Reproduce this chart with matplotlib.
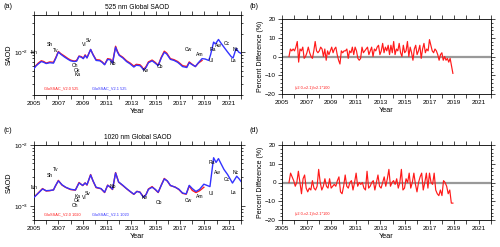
import numpy as np
import matplotlib
matplotlib.use("Agg")
import matplotlib.pyplot as plt
from matplotlib.ticker import FixedLocator, NullFormatter, LogLocator, MultipleLocator

plt.rcParams['font.family'] = ['Liberation Sans', 'DejaVu Sans']

# ---------------- data ----------------
yr_b525 = [2005.0, 2005.15, 2005.35, 2005.6, 2005.8, 2006.0, 2006.3, 2006.6, 2006.8, 2007.0,
           2007.2, 2007.5, 2007.8, 2008.0, 2008.3, 2008.5, 2008.7, 2008.9, 2009.05, 2009.2,
           2009.35, 2009.65, 2009.85, 2010.1, 2010.4, 2010.6, 2010.8, 2011.05, 2011.3, 2011.45,
           2011.7, 2011.85, 2012.0, 2012.3, 2012.6, 2012.9, 2013.2, 2013.4, 2013.7, 2013.85,
           2014.0, 2014.2, 2014.4, 2014.7, 2014.95, 2015.2, 2015.45, 2015.7, 2015.9, 2016.2,
           2016.5, 2016.8, 2017.0, 2017.2, 2017.55, 2017.75, 2017.95, 2018.25, 2018.5, 2018.8,
           2019.05, 2019.35, 2019.5, 2019.75, 2019.9, 2020.15, 2020.35, 2020.6, 2020.9, 2021.2,
           2021.35, 2021.6, 2021.8, 2022.0]
v21_525 = [5.4e-3, 5.9e-3, 6.4e-3, 7.0e-3, 6.8e-3, 6.5e-3, 6.7e-3, 6.6e-3, 8.0e-3, 1.0e-2,
           9.2e-3, 8.3e-3, 7.6e-3, 7.2e-3, 7.0e-3, 7.1e-3, 8.5e-3, 8.2e-3, 7.8e-3, 8.8e-3,
           8.0e-3, 1.1e-2, 9.0e-3, 7.3e-3, 7.2e-3, 6.8e-3, 6.2e-3, 7.6e-3, 7.4e-3, 6.6e-3,
           1.2e-2, 1.0e-2, 8.8e-3, 8.0e-3, 7.0e-3, 6.4e-3, 5.7e-3, 6.1e-3, 6.0e-3, 5.6e-3,
           5.1e-3, 5.6e-3, 6.7e-3, 7.2e-3, 6.6e-3, 6.0e-3, 8.0e-3, 9.9e-3, 9.3e-3, 7.6e-3,
           7.3e-3, 6.8e-3, 6.3e-3, 5.8e-3, 5.6e-3, 6.7e-3, 6.3e-3, 5.8e-3, 6.7e-3, 7.8e-3,
           7.7e-3, 7.3e-3, 9.0e-3, 1.45e-2, 1.35e-2, 1.6e-2, 1.4e-2, 1.2e-2, 1.0e-2, 8.4e-3,
           8.0e-3, 1.15e-2, 1.0e-2, 9.5e-3]
yr_r525 = yr_b525[:60]
v20_525 = [5.5e-3, 6.0e-3, 6.6e-3, 7.2e-3, 7.0e-3, 6.6e-3, 6.9e-3, 6.8e-3, 8.2e-3, 1.02e-2,
           9.4e-3, 8.6e-3, 7.8e-3, 7.4e-3, 7.1e-3, 7.3e-3, 8.6e-3, 8.4e-3, 7.9e-3, 9.0e-3,
           8.1e-3, 1.1e-2, 9.1e-3, 7.5e-3, 7.4e-3, 6.9e-3, 6.3e-3, 7.8e-3, 7.6e-3, 6.7e-3,
           1.24e-2, 1.03e-2, 9.0e-3, 8.2e-3, 7.2e-3, 6.6e-3, 5.9e-3, 6.3e-3, 6.2e-3, 5.8e-3,
           5.2e-3, 5.8e-3, 6.9e-3, 7.4e-3, 6.8e-3, 6.1e-3, 8.2e-3, 1.03e-2, 9.6e-3, 7.8e-3,
           7.5e-3, 7.0e-3, 6.5e-3, 6.0e-3, 5.8e-3, 6.9e-3, 6.4e-3, 5.8e-3, 6.6e-3, 7.3e-3]

yr_b1020 = [2005.0, 2005.3, 2005.7, 2006.0, 2006.3, 2006.6, 2006.75, 2007.0, 2007.3, 2007.6,
            2008.0, 2008.4, 2008.7, 2009.0, 2009.2, 2009.35, 2009.65, 2009.85, 2010.1, 2010.5,
            2010.8, 2011.05, 2011.3, 2011.45, 2011.7, 2011.95, 2012.3, 2012.6, 2012.9, 2013.2,
            2013.45, 2013.7, 2014.0, 2014.2, 2014.4, 2014.7, 2014.95, 2015.2, 2015.45, 2015.7,
            2015.95, 2016.2, 2016.6, 2016.9, 2017.2, 2017.5, 2017.75, 2018.0, 2018.3, 2018.6,
            2018.95, 2019.2, 2019.45, 2019.75, 2019.95, 2020.15, 2020.35, 2020.6, 2020.9, 2021.3,
            2021.65, 2021.85, 2022.0]
v21_1020 = [1.4e-3, 1.6e-3, 1.92e-3, 1.8e-3, 1.82e-3, 1.85e-3, 2.15e-3, 2.6e-3, 2.25e-3, 2.05e-3,
            1.9e-3, 1.85e-3, 2.4e-3, 2.2e-3, 2.4e-3, 2.25e-3, 3.25e-3, 2.6e-3, 2.05e-3, 1.95e-3,
            1.7e-3, 2.2e-3, 2.05e-3, 1.9e-3, 3.5e-3, 2.5e-3, 2.2e-3, 1.95e-3, 1.75e-3, 1.58e-3,
            1.75e-3, 1.7e-3, 1.4e-3, 1.55e-3, 1.9e-3, 2.05e-3, 1.9e-3, 1.7e-3, 2.2e-3, 2.8e-3,
            2.6e-3, 2.2e-3, 2.05e-3, 1.9e-3, 1.65e-3, 1.6e-3, 2.2e-3, 1.95e-3, 1.75e-3, 1.9e-3,
            2.3e-3, 2.2e-3, 2.1e-3, 6.2e-3, 5.2e-3, 6.0e-3, 5.0e-3, 4.0e-3, 3.3e-3, 2.4e-3,
            3.1e-3, 2.8e-3, 2.55e-3]
yr_r1020 = yr_b1020[:51]
v20_1020 = [1.41e-3, 1.62e-3, 1.95e-3, 1.78e-3, 1.8e-3, 1.86e-3, 2.12e-3, 2.65e-3, 2.22e-3, 2.04e-3,
            1.88e-3, 1.84e-3, 2.45e-3, 2.18e-3, 2.42e-3, 2.22e-3, 3.3e-3, 2.58e-3, 2.02e-3, 1.94e-3,
            1.68e-3, 2.22e-3, 2.02e-3, 1.88e-3, 3.55e-3, 2.48e-3, 2.18e-3, 1.94e-3, 1.74e-3, 1.57e-3,
            1.76e-3, 1.71e-3, 1.41e-3, 1.56e-3, 1.92e-3, 2.1e-3, 1.88e-3, 1.68e-3, 2.22e-3, 2.85e-3,
            2.58e-3, 2.18e-3, 2.06e-3, 1.88e-3, 1.63e-3, 1.58e-3, 2.15e-3, 1.82e-3, 1.68e-3, 1.8e-3,
            2.05e-3]

pct_525 = [0, 4, 3, 4, 3, 5, 8, -3, 4, 3, 5, -1, 0, 2, 5, 2, 0, -1, 3, 8,
           3, 2, 3, 5, 4, 0, 4, -2, 3, 1, 3, 5, 2, 4, 5, 1, -2, -4, 3, 2,
           3, 3, 4, -1, 3, 2, 5, 1, 5, 3, -1, -2, -1, 5, 2, 3, 4, 5, 1, 3,
           5, 0, 4, 3, 5, 6, 1, 3, 7, 2, 5, 3, 6, 1, 6, 2, 8, 1, 4, 3,
           7, 2, 0, 6, 2, 3, 8, 0, 5, 2, -2, 4, 6, 1, 3, 6, -1, 4, 7, 2,
           4, 3, 9, 6, 3, 2, 4, 3, 1, -2, 1, 2, -2, 0, -2, -1, -3, -1, -5, -9]
pct_1020 = [0, 5, 3, 1, -2, 0, 6, 0, -6, 2, 4, -3, -5, -3, -4, 1, -3, -4, -2, 7,
            0, -4, -2, 2, -2, -3, 2, -3, -2, -1, -2, 1, 3, -5, -6, -2, 4, -2, -3, 0,
            1, -4, 0, 5, -2, 0, -1, 0, -3, -4, 6, -3, -2, 0, 1, -4, 0, 4, -2, -3,
            0, 3, -2, 2, 7, -2, 0, 1, -1, 2, -3, 0, 7, -4, -3, 2, 0, 5, -3, 0,
            5, -1, -5, 0, 3, 5, -4, 0, 5, -3, 5, 0, -1, 5, -4, -6, -7, -4, -7, 1,
            0, -2, -6, -4, -11, -11]
pct_start, pct_end = 2005.57, 2018.9

# volcano labels: (name, year, value)
labels_525 = [("Mn", 2005.05, 1.0e-2), ("Sh", 2006.3, 1.33e-2), ("Tv", 2006.75, 1.07e-2),
              ("Ch", 2008.4, 6.1e-3), ("Ok", 2008.55, 5.1e-3), ("Ka", 2008.6, 4.3e-3),
              ("Vl", 2009.1, 1.34e-2), ("Sv", 2009.45, 1.54e-2), ("Nb", 2011.5, 6.6e-3),
              ("Ke", 2014.2, 5.1e-3), ("Cb", 2015.35, 5.8e-3), ("Cw", 2017.7, 1.1e-2),
              ("Am", 2018.65, 9.2e-3), ("Ra", 2019.7, 1.1e-2), ("Ul", 2019.55, 7.4e-3),
              ("Aw", 2020.15, 1.26e-2), ("Cc", 2020.8, 1.4e-2), ("Nc", 2021.6, 1.1e-2),
              ("La", 2021.4, 7.2e-3)]
labels_1020 = [("Mn", 2005.05, 2.0e-3), ("Sh", 2006.3, 3.2e-3), ("Tv", 2006.8, 4.0e-3),
               ("Ka", 2008.58, 1.45e-3), ("Ok", 2008.5, 1.25e-3), ("Ch", 2008.4, 1.05e-3),
               ("Vl", 2009.1, 1.4e-3), ("Sv", 2009.4, 1.65e-3), ("Nb", 2011.46, 2.1e-3),
               ("Ke", 2014.13, 1.4e-3), ("Cb", 2015.3, 1.15e-3), ("Cw", 2017.7, 1.25e-3),
               ("Am", 2018.65, 1.45e-3), ("Ul", 2019.55, 1.65e-3), ("Ra", 2019.6, 5.2e-3),
               ("Aw", 2020.1, 3.5e-3), ("Cc", 2020.8, 2.7e-3), ("Nc", 2021.6, 3.5e-3),
               ("La", 2021.35, 1.7e-3)]

RED = '#ff1a1a'
BLUE = '#3333ff'
W, H = 500, 247
fig = plt.figure(figsize=(W / 100, H / 100), dpi=100)


def ax_at(left, top, right, bottom):
    return fig.add_axes([left / W, 1 - bottom / H, (right - left) / W, (bottom - top) / H])


def style_x(ax):
    ax.set_xlim(2005, 2022)
    years = list(range(2005, 2023))
    ax.xaxis.set_major_locator(FixedLocator(years))
    ax.set_xticklabels([str(y) if (y - 2005) % 2 == 0 else '' for y in years])
    ax.tick_params(axis='both', which='both', direction='out', labelsize=4.6,
                   top=True, right=True, width=0.5, pad=1.5)
    ax.tick_params(which='major', length=2.8)
    ax.tick_params(which='minor', length=1.5)
    ax.set_xlabel('Year', fontsize=5.2, labelpad=1.5)
    for s in ax.spines.values():
        s.set_linewidth(0.6)


def saod_panel(ax, yb, vb, yr, vr, labs, ylim, title, leg1, leg2):
    ax.plot(yr, vr, color=RED, lw=1.0, zorder=2)
    ax.plot(yb, vb, color=BLUE, lw=1.0, zorder=3)
    ax.set_yscale('log')
    ax.set_ylim(*ylim)
    ax.yaxis.set_major_locator(LogLocator(base=10, numticks=5))
    ax.yaxis.set_minor_locator(LogLocator(base=10, subs=np.arange(2, 10), numticks=20))
    ax.yaxis.set_minor_formatter(NullFormatter())
    style_x(ax)
    ax.set_ylabel('SAOD', fontsize=5.2, labelpad=1)
    ax.set_title(title, fontsize=4.8, pad=4)
    for name, x, v in labs:
        ax.text(x, v, name, fontsize=3.6, ha='center', va='center', zorder=4)
    ax.text(0.05, 0.08, leg1, transform=ax.transAxes, fontsize=2.8, color=RED, va='center')
    ax.text(0.28, 0.08, leg2, transform=ax.transAxes, fontsize=2.8, color=BLUE, va='center')


def pct_panel(ax, vals):
    t = np.linspace(pct_start, pct_end, len(vals))
    ax.axhline(0, color='#999999', lw=1.6, zorder=1)
    ax.plot(t, vals, color=RED, lw=0.85, zorder=2)
    ax.set_ylim(-20, 20)
    ax.yaxis.set_major_locator(MultipleLocator(10))
    ax.yaxis.set_minor_locator(MultipleLocator(2))
    style_x(ax)
    ax.set_ylabel('Percent Difference (%)', fontsize=5.0, labelpad=1)
    ax.text(0.06, 0.08, '(v2.0-v2.1)/v2.1*100', transform=ax.transAxes, fontsize=2.8,
            color=RED, va='center')


axa = ax_at(34, 15, 241, 95)
saod_panel(axa, yr_b525, v21_525, yr_r525, v20_525, labels_525, (2e-3, 4e-2),
           '525 nm Global SAOD', 'GloSSAC_V2.0 525', 'GloSSAC_V2.1 525')
axb = ax_at(282, 19, 491, 94)
pct_panel(axb, pct_525)
axc = ax_at(34, 145, 241, 220)
saod_panel(axc, yr_b1020, v21_1020, yr_r1020, v20_1020, labels_1020, (6e-4, 1e-2),
           '1020 nm Global SAOD', 'GloSSAC_V2.0 1020', 'GloSSAC_V2.1 1020')
axd = ax_at(282, 145, 491, 220)
pct_panel(axd, pct_1020)

for lab, x, y in [('(a)', 3, 7), ('(b)', 250, 7), ('(c)', 3, 131), ('(d)', 250, 131)]:
    fig.text(x / W, 1 - y / H, lab, fontsize=5.2, va='center', ha='left')

fig.savefig('out.png', dpi=100)
